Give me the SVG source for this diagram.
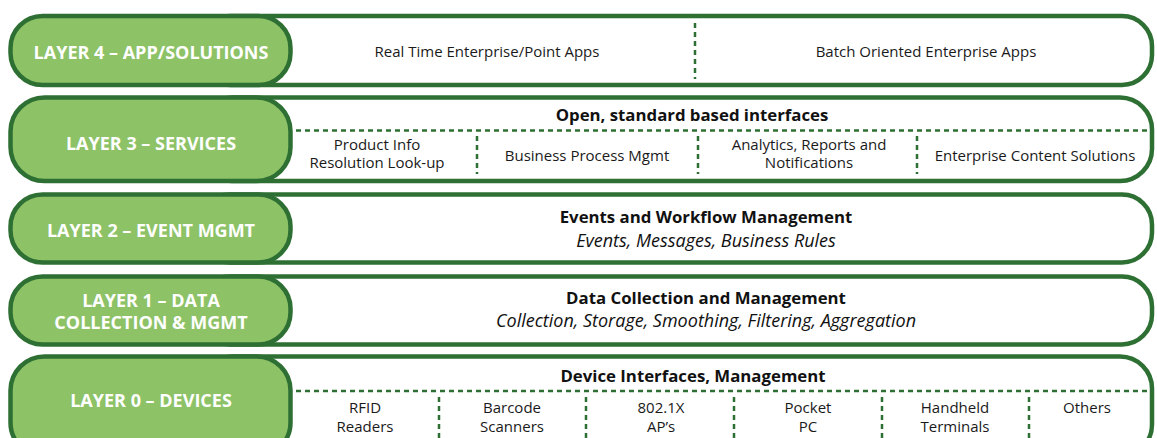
<svg xmlns="http://www.w3.org/2000/svg" width="1157" height="438" viewBox="0 0 1157 438">
<style>
.box{fill:#fff;stroke:#2e7033;stroke-width:4.5}
.pill{fill:#8dc267;stroke:#2e7033;stroke-width:4.5}
.lbl{font-family:"Open Sans","Liberation Sans",sans-serif;font-weight:bold;font-size:18px;fill:#fff;text-anchor:middle}
.t{font-family:"Open Sans","Liberation Sans",sans-serif;font-size:15px;fill:#1a1a1a;text-anchor:middle}
.h{font-family:"Open Sans","Liberation Sans",sans-serif;font-size:16.8px;font-weight:bold;fill:#111;text-anchor:middle}
.i{font-family:"Open Sans","Liberation Sans",sans-serif;font-size:18px;font-style:italic;fill:#111;text-anchor:middle}
.d{stroke:#2e7033;stroke-width:2.5;stroke-dasharray:5 4;fill:none}
</style>
<rect width="1157" height="438" fill="#fff"/>
<g id="layer4">
<rect class="box" x="200" y="16" width="952" height="69" rx="30"/>
<rect class="pill" x="10.5" y="16" width="280" height="69" rx="32"/>
<text class="lbl" x="151" y="58.5">LAYER 4 – APP/SOLUTIONS</text>
<text class="t" x="487" y="57">Real Time Enterprise/Point Apps</text>
<text class="t" x="926" y="57">Batch Oriented Enterprise Apps</text>
</g>
<g id="layer3">
<rect class="box" x="200" y="97.5" width="952" height="83.5" rx="32"/>
<rect class="pill" x="10.5" y="97.5" width="280" height="83.5" rx="34"/>
<text class="lbl" x="151" y="149.5">LAYER 3 – SERVICES</text>
<text class="h" x="692" y="121">Open, standard based interfaces</text>
<text class="t" x="377" y="150">Product Info</text>
<text class="t" x="377" y="168">Resolution Look-up</text>
<text class="t" x="587" y="161">Business Process Mgmt</text>
<text class="t" x="809" y="150">Analytics, Reports and</text>
<text class="t" x="809" y="168">Notifications</text>
<text class="t" x="1035" y="161">Enterprise Content Solutions</text>
</g>
<g id="layer2">
<rect class="box" x="200" y="194.5" width="952" height="68" rx="30"/>
<rect class="pill" x="10.5" y="194.5" width="280" height="68" rx="32"/>
<text class="lbl" x="151" y="236.5">LAYER 2 – EVENT MGMT</text>
<text class="h" x="706" y="222.5">Events and Workflow Management</text>
<text class="i" x="706" y="246.5">Events, Messages, Business Rules</text>
</g>
<g id="layer1">
<rect class="box" x="200" y="276.5" width="952" height="68" rx="30"/>
<rect class="pill" x="10.5" y="276.5" width="280" height="68" rx="32"/>
<text class="lbl" x="151" y="306.5">LAYER 1 – DATA</text>
<text class="lbl" x="151" y="329">COLLECTION &amp; MGMT</text>
<text class="h" x="706" y="303.5">Data Collection and Management</text>
<text class="i" x="706" y="326.5">Collection, Storage, Smoothing, Filtering, Aggregation</text>
</g>
<g id="layer0">
<rect class="box" x="200" y="356.5" width="952" height="100" rx="32"/>
<rect class="pill" x="10.5" y="356.5" width="280" height="100" rx="34"/>
<text class="lbl" x="151" y="407">LAYER 0 – DEVICES</text>
<text class="h" x="693" y="382">Device Interfaces, Management</text>
<text class="t" x="365" y="413">RFID</text>
<text class="t" x="365" y="432">Readers</text>
<text class="t" x="512" y="413">Barcode</text>
<text class="t" x="512" y="432">Scanners</text>
<text class="t" x="661" y="413">802.1X</text>
<text class="t" x="661" y="432">AP’s</text>
<text class="t" x="808" y="413">Pocket</text>
<text class="t" x="808" y="432">PC</text>
<text class="t" x="955" y="413">Handheld</text>
<text class="t" x="955" y="432">Terminals</text>
<text class="t" x="1087" y="413">Others</text>
</g>
<g id="connectors">
<line class="d" x1="695" y1="23" x2="695" y2="79"/>
<line class="d" x1="296" y1="130.5" x2="1147" y2="130.5"/>
<line class="d" x1="477" y1="136" x2="477" y2="174"/>
<line class="d" x1="698" y1="136" x2="698" y2="174"/>
<line class="d" x1="917" y1="136" x2="917" y2="174"/>
<line class="d" x1="296" y1="391" x2="1147" y2="391"/>
<line class="d" x1="439" y1="397" x2="439" y2="438"/>
<line class="d" x1="586" y1="397" x2="586" y2="438"/>
<line class="d" x1="734" y1="397" x2="734" y2="438"/>
<line class="d" x1="882" y1="397" x2="882" y2="438"/>
<line class="d" x1="1029" y1="397" x2="1029" y2="438"/>
</g>
</svg>
